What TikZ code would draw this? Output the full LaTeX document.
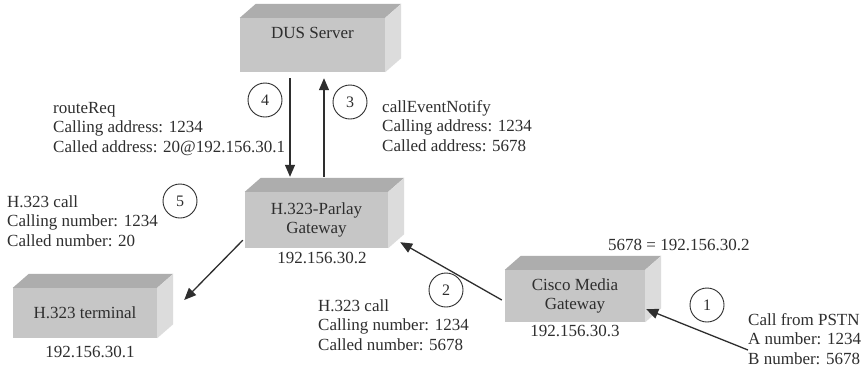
\documentclass[tikz,border=0pt]{standalone}
\usepackage{fontspec}
\setmainfont{Liberation Serif}
\usetikzlibrary{arrows.meta}
\definecolor{ink}{HTML}{2E2E2E}
\definecolor{boxfront}{HTML}{C6C6C6}
\definecolor{boxtop}{HTML}{ADADAD}
\definecolor{boxside}{HTML}{DCDCDC}
\newcommand\cubeshade[1]{%
  \fill[boxtop] (#1.north west) -- ++(16,-14) -- ([xshift=16pt,yshift=14pt]#1.north east) -- (#1.north east) -- cycle;
  \fill[boxside] (#1.north east) -- ++(16,-14) -- ([xshift=16pt,yshift=14pt]#1.south east) -- (#1.south east) -- cycle;}
\begin{document}
\begin{tikzpicture}[x=1pt,y=-1pt,
  front/.style={fill=boxfront, draw=none, inner sep=0pt, align=center, text=ink,
    font=\fontsize{17}{19.5}\selectfont},
  txt/.style={font=\fontsize{17}{19.5}\selectfont, text=ink, align=left, inner sep=0pt, anchor=north west},
  iplabel/.style={font=\fontsize{17}{19.5}\selectfont, text=ink, inner sep=0pt},
  num/.style={circle, draw=ink, line width=0.9pt, minimum size=34pt, inner sep=0pt, text=ink,
    font=\fontsize{16}{16}\selectfont},
  conn/.style={draw=ink, line width=1.3pt, -{Triangle[length=12pt,width=10pt]}}]
\useasboundingbox[fill=white] (0,0) rectangle (863,368);

% boxes
\node[front, minimum width=145pt, minimum height=54pt] (dus) at (312.5,45) {DUS Server\\[4pt]};
\cubeshade{dus}
\node[front, minimum width=143pt, minimum height=56pt] (parlay) at (316.5,220) {H.323-Parlay\\Gateway};
\cubeshade{parlay}
\node[front, minimum width=144pt, minimum height=50pt] (term) at (85,313) {H.323 terminal};
\cubeshade{term}
\node[front, minimum width=140pt, minimum height=52pt] (cisco) at (575,296) {Cisco Media\\Gateway};
\cubeshade{cisco}

% addresses
\node[iplabel] (ip2) at (322,258) {192.156.30.2};
\node[iplabel] (ip1) at (90,352) {192.156.30.1};
\node[iplabel] (ip3) at (575,331) {192.156.30.3};
\node[iplabel, anchor=west] (map) at (608,245) {5678 = 192.156.30.2};

% message texts
\node[txt] (route) at (53,102) {routeReq\\Calling address: 1234\\Called address: 20@192.156.30.1};
\node[txt] (notify) at (382,100) {callEventNotify\\Calling address: 1234\\Called address: 5678};
\node[txt] (call5) at (7,195) {H.323 call\\Calling number: 1234\\Called number: 20};
\node[txt] (call2) at (318,299) {H.323 call\\Calling number: 1234\\Called number: 5678};
\node[txt] (pstn) at (748,313) {Call from PSTN\\A number: 1234\\B number: 5678};

% step numbers
\node[num] (n4) at (265,100) {4};
\node[num] (n3) at (350,102) {3};
\node[num] (n5) at (180,201) {5};
\node[num] (n2) at (446,290) {2};
\node[num] (n1) at (707,305) {1};

% connectors
\coordinate (pstnend) at (748,350);
\draw[conn] ([shift={(-22.5pt,-6pt)}]dus.south) -- ([shift={(-26.5pt,15pt)}]parlay.north);
\draw[conn] ([shift={(7.5pt,15pt)}]parlay.north) -- ([shift={(11.5pt,-6pt)}]dus.south);
\draw[conn] ([shift={(-2pt,8pt)}]parlay.south west) -- ([shift={(27pt,13pt)}]term.east);
\draw[conn] ([shift={(-3pt,-4pt)}]cisco.west) -- ([shift={(12pt,6pt)}]parlay.south east);
\draw[conn] (pstnend) -- ([shift={(1pt,13pt)}]cisco.south east);
\end{tikzpicture}
\end{document}
